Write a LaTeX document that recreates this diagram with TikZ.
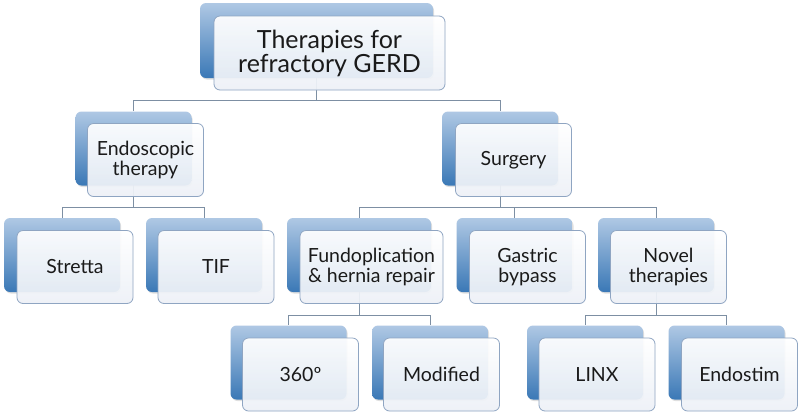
\documentclass[tikz,border=0pt]{standalone}
\usepackage{fontspec}
\setmainfont{Lato}
\usetikzlibrary{backgrounds,shadows,calc}
\definecolor{backtop}{HTML}{AFC8E4}
\definecolor{backbot}{HTML}{3A78B6}
\definecolor{frontbd}{HTML}{8FA5C2}
\definecolor{frontbot}{HTML}{EDF1F7}
\definecolor{connc}{HTML}{7D8FA3}
\definecolor{txt}{HTML}{1A1A1A}
\tikzset{
  backbox/.style={rectangle, rounded corners=6pt, minimum width=116pt, minimum height=74pt,
    top color=backtop, bottom color=backbot, draw=none, inner sep=0pt,
    drop shadow={shadow xshift=1pt, shadow yshift=-1.5pt, opacity=0.25}},
  frontbox/.style={rectangle, rounded corners=6pt, minimum width=116pt, minimum height=73pt,
    top color=white, bottom color=frontbot, draw=frontbd, line width=0.8pt, fill opacity=0.93,
    text opacity=1, inner sep=0pt, align=center, text=txt, font=\fontsize{19.5}{19.5}\selectfont},
  conn/.style={draw=connc, line width=0.9pt},
}
\begin{document}
\begin{tikzpicture}[x=1pt,y=-1pt]
\path[use as bounding box] (0,0) rectangle (800,416);
% level 0
\node[backbox, minimum width=233pt, minimum height=75pt] (b0) at (316.5,40.5) {};
\node[frontbox, minimum width=231pt, minimum height=74pt, font=\fontsize{25}{24}\selectfont] (f0) at (329.5,53) {Therapies for\\refractory GERD};
% level 1
\node[backbox] (b1) at (133.5,148.5) {};
\node[frontbox] (f1) at (145.5,160) {Endoscopic\\therapy};
\node[backbox] (b2) at (500,148.5) {};
\node[frontbox] (f2) at (513.5,160) {Surgery};
% level 2
\node[backbox] (b3) at (62,255) {};
\node[frontbox] (f3) at (75,267) {Stretta};
\node[backbox] (b4) at (204,255) {};
\node[frontbox] (f4) at (216,267) {TIF};
\node[backbox, minimum width=144pt] (b5) at (359,255) {};
\node[frontbox, minimum width=143pt] (f5) at (371.5,267) {Fundoplication\\\& hernia repair};
\node[backbox] (b6) at (514.5,255) {};
\node[frontbox] (f6) at (527.5,267) {Gastric\\bypass};
\node[backbox] (b7) at (656,255) {};
\node[frontbox] (f7) at (668.5,267) {Novel\\therapies};
% level 3
\node[backbox] (b8) at (288.5,362.5) {};
\node[frontbox] (f8) at (300.5,374.5) {360º};
\node[backbox] (b9) at (430,362.5) {};
\node[frontbox] (f9) at (441.5,374.5) {Modified};
\node[backbox] (b10) at (585,362.5) {};
\node[frontbox] (f10) at (597,374.5) {LINX};
\node[backbox] (b11) at (726.5,362.5) {};
\node[frontbox] (f11) at (739.5,374.5) {Endostim};
% connectors
\coordinate (j0) at (316.5,100);
\coordinate (j1) at (133.5,207);
\coordinate (j2) at (500,207);
\coordinate (j5) at (359,315);
\coordinate (j7) at (656,315);
\begin{pgfonlayer}{background}
\fill[white] (0,0) rectangle (800,416);
\draw[conn] (b0.center) -- (j0) -| (b1.north);
\draw[conn] (j0) -| (b2.north);
\draw[conn] (b1.center) -- (j1) -| (b3.north);
\draw[conn] (j1) -| (b4.north);
\draw[conn] (b2.center) -- (j2) -| (b5.north);
\draw[conn] (j2) -| (b6.north);
\draw[conn] (j2) -| (b7.north);
\draw[conn] (b5.center) -- (j5) -| (b8.north);
\draw[conn] (j5) -| (b9.north);
\draw[conn] (b7.center) -- (j7) -| (b10.north);
\draw[conn] (j7) -| (b11.north);
\end{pgfonlayer}
\end{tikzpicture}
\end{document}
